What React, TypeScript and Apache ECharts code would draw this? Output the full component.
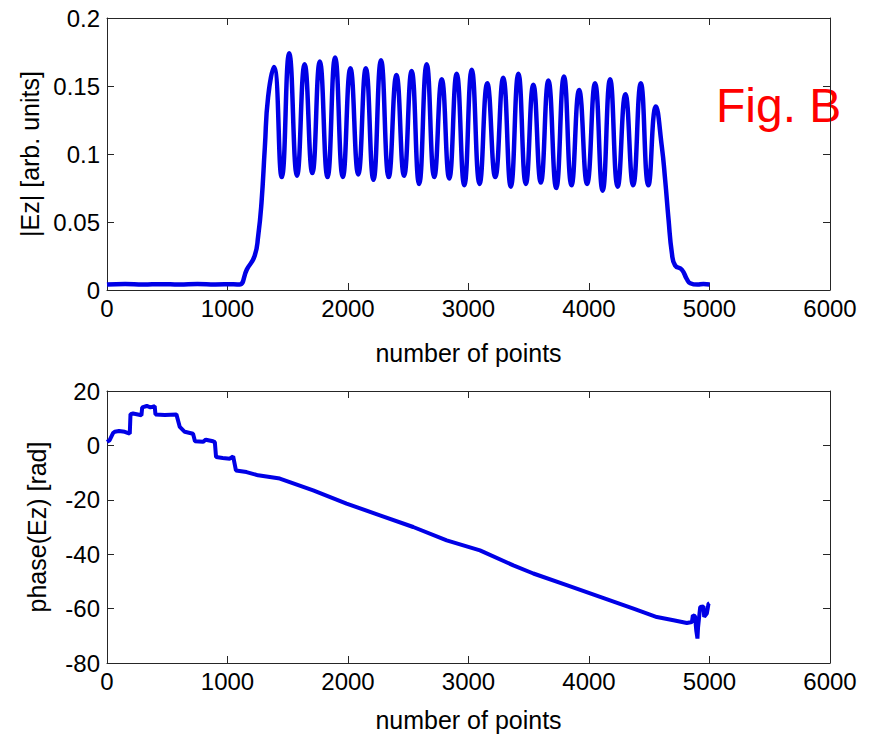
import React, { useEffect, useRef } from "react";
import * as echarts from "echarts";

// ---------- axis settings ----------
const xMin = 0;
const xMax = 6000;
const xInterval = 1000;
const ampMin = 0;
const ampMax = 0.2;
const ampInterval = 0.05;
const phaseMin = -80;
const phaseMax = 20;
const phaseInterval = 20;

const xName = "number of points";
const ampName = "|Ez| [arb. units]";
const phaseName = "phase(Ez) [rad]";
const figLabel = "Fig. B";

// ---------- |Ez| data ----------
const leadX = [0, 150, 300, 450, 600, 750, 900, 1050, 1100];
const leadY = [0.004, 0.0045, 0.004, 0.0043, 0.004, 0.0044, 0.0041, 0.0043, 0.004];
const riseX = [1160, 1225, 1255, 1282, 1310, 1337];
const riseY = [0.015, 0.025, 0.04, 0.064, 0.105, 0.142];
const peakX = [1385, 1512, 1640, 1766, 1893, 2020, 2148, 2274, 2402, 2528, 2653, 2778, 2902, 3027, 3156, 3288, 3414, 3538, 3663, 3792, 3918, 4050, 4175, 4302, 4430, 4555];
const peakY = [0.164, 0.174, 0.166, 0.168, 0.171, 0.163, 0.163, 0.169, 0.158, 0.161, 0.166, 0.155, 0.159, 0.162, 0.152, 0.156, 0.159, 0.151, 0.154, 0.157, 0.147, 0.152, 0.155, 0.144, 0.152, 0.135];
const troughX = [1450, 1577, 1704, 1830, 1957, 2085, 2211, 2338, 2465, 2590, 2716, 2840, 2965, 3092, 3222, 3351, 3476, 3600, 3728, 3855, 3984, 4113, 4238, 4366, 4493];
const troughY = [0.083, 0.084, 0.086, 0.083, 0.083, 0.085, 0.081, 0.083, 0.084, 0.078, 0.083, 0.082, 0.077, 0.078, 0.083, 0.076, 0.078, 0.079, 0.075, 0.077, 0.078, 0.073, 0.076, 0.077, 0.077];
const tailX = [4605, 4632, 4660, 4688, 4715, 4770, 4812, 4840, 4900, 4950, 5000];
const tailY = [0.105, 0.081, 0.052, 0.027, 0.018, 0.015, 0.008, 0.005, 0.004, 0.0045, 0.004];

// ---------- phase(Ez) data ----------
const phaseX = [0, 22, 50, 64, 100, 147, 189, 195, 216, 286, 292, 330, 360, 396, 402, 480, 576, 604, 645, 714, 730, 797, 820, 880, 895, 905, 960, 1019, 1047, 1070, 1158, 1254, 1434, 1711, 1988, 2265, 2541, 2819, 3095, 3372, 3538, 3815, 4092, 4369, 4563, 4701, 4812, 4854, 4862, 4880, 4890, 4900, 4905, 4917, 4923, 4950, 4956, 4978, 4992, 5000];
const phaseY = [1.3, 1.9, 4.5, 5, 5.3, 5, 4.3, 11.5, 11.7, 11.1, 14, 14.5, 14, 14.4, 11.4, 11.2, 11.4, 6.8, 5, 4.3, 1.5, 1.3, 2.1, 1.5, 1.2, -4.3, -4.6, -4.9, -4, -9.2, -9.8, -11, -12.2, -16.5, -21.4, -25.7, -30, -34.9, -38.6, -44.1, -47.1, -51.4, -55.7, -60, -63.1, -64.3, -65.3, -64.9, -62.5, -62.8, -68, -71, -67, -61.8, -59.4, -59.2, -63, -61.8, -58.2, -58];

const FONT = "'Liberation Sans', Arial, Helvetica, sans-serif";
const LINE_COLOR = "#0000e6";
const AXIS_COLOR = "#262626";

function buildAmp(): number[][] {
  const pts: number[][] = [];
  leadX.forEach((x, i) => pts.push([x, leadY[i]]));
  riseX.forEach((x, i) => pts.push([x, riseY[i]]));
  peakX.forEach((x, i) => {
    pts.push([x, peakY[i]]);
    if (i < troughX.length) pts.push([troughX[i], troughY[i]]);
  });
  tailX.forEach((x, i) => pts.push([x, tailY[i]]));
  return pts;
}

function buildPhase(): number[][] {
  return phaseX.map((x, i) => [x, phaseY[i]]);
}

const fmt = (v: number) => String(Number(v.toFixed(4)));

function xAxes(gridIndex: number, nameGap: number) {
  const common = {
    gridIndex,
    type: "value" as const,
    min: xMin,
    max: xMax,
    interval: xInterval,
    splitLine: { show: false },
    axisLine: { show: true, onZero: false, lineStyle: { color: AXIS_COLOR, width: 1 } },
    axisTick: { show: true, inside: true, length: 7, lineStyle: { color: AXIS_COLOR } },
  };
  return [
    {
      ...common,
      position: "bottom",
      name: xName,
      nameLocation: "middle",
      nameGap,
      nameTextStyle: { fontSize: 25, color: "#000", fontFamily: FONT },
      axisLabel: { show: true, fontSize: 24, color: "#000", fontFamily: FONT, margin: 6, formatter: fmt },
    },
    { ...common, position: "top", axisLabel: { show: false } },
  ];
}

function yAxes(gridIndex: number, min: number, max: number, interval: number, name: string, nameGap: number) {
  const common = {
    gridIndex,
    type: "value" as const,
    min,
    max,
    interval,
    splitLine: { show: false },
    axisLine: { show: true, onZero: false, lineStyle: { color: AXIS_COLOR, width: 1 } },
    axisTick: { show: true, inside: true, length: 7, lineStyle: { color: AXIS_COLOR } },
  };
  return [
    {
      ...common,
      position: "left",
      name,
      nameLocation: "middle",
      nameGap,
      nameTextStyle: { fontSize: 25, color: "#000", fontFamily: FONT },
      axisLabel: { show: true, fontSize: 24, color: "#000", fontFamily: FONT, margin: 7, formatter: fmt },
    },
    { ...common, position: "right", axisLabel: { show: false } },
  ];
}

export default function App() {
  const ref = useRef<HTMLDivElement>(null);
  useEffect(() => {
    if (!ref.current) return;
    const chart = echarts.init(ref.current, undefined, { renderer: "svg" });
    chart.setOption({
      animation: false,
      backgroundColor: "#ffffff",
      grid: [
        { left: 107, top: 18, width: 723, height: 272 },
        { left: 107, top: 391, width: 723, height: 272 },
      ],
      xAxis: [...xAxes(0, 50), ...xAxes(1, 44)],
      yAxis: [
        ...yAxes(0, ampMin, ampMax, ampInterval, ampName, 64),
        ...yAxes(1, phaseMin, phaseMax, phaseInterval, phaseName, 58),
      ],
      series: [
        {
          type: "line",
          xAxisIndex: 0,
          yAxisIndex: 0,
          data: buildAmp(),
          showSymbol: false,
          smooth: 0.5,
          lineStyle: { color: LINE_COLOR, width: 4.5 },
          itemStyle: { color: LINE_COLOR },
        },
        {
          type: "line",
          xAxisIndex: 2,
          yAxisIndex: 2,
          data: buildPhase(),
          showSymbol: false,
          lineStyle: { color: LINE_COLOR, width: 4 },
          itemStyle: { color: LINE_COLOR },
        },
      ],
      graphic: [
        {
          type: "text",
          x: 716,
          y: 105,
          style: {
            text: figLabel,
            fill: "#ff0000",
            fontSize: 48,
            fontFamily: FONT,
            align: "left",
            verticalAlign: "middle",
          },
        },
      ],
    });
    return () => chart.dispose();
  }, []);
  return (
    <div
      ref={ref}
      style={{ position: "absolute", left: 0, top: 0, width: 873, height: 738, background: "#fff" }}
    />
  );
}
